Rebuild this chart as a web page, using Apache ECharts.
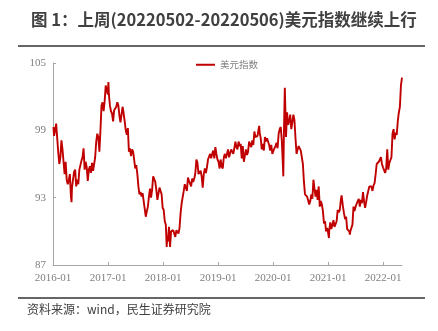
<!DOCTYPE html>
<html>
<head>
<meta charset="utf-8">
<script src="https://cdn.jsdelivr.net/npm/echarts@6/dist/echarts.min.js"></script>
<style>
  html, body { margin: 0; padding: 0; background: #fff; }
  #chart { width: 438px; height: 331px; }
</style>
</head>
<body>
<div id="chart"></div>
<script>
// US dollar index, weekly closes (month-day, value) grouped by year
const dxy2016 = [
  ['01-04',99.3],['01-08',98.5],['01-15',99.0],['01-22',99.6],['01-29',99.6],['02-05',97.0],['02-12',96.0],
  ['02-19',96.6],['02-26',98.1],['03-04',97.3],['03-11',96.2],['03-18',95.1],['03-25',96.2],['04-01',94.6],
  ['04-08',94.2],['04-15',94.6],['04-22',95.1],['04-29',93.1],['05-03',92.6],['05-06',93.9],['05-13',94.6],
  ['05-20',95.3],['05-27',95.5],['06-03',94.0],['06-10',94.6],['06-17',94.2],['06-24',95.5],['07-01',95.6],
  ['07-08',96.3],['07-15',96.6],['07-22',97.4],['07-29',95.5],['08-05',96.2],['08-12',95.7],['08-19',94.5],
  ['08-26',95.5],['09-02',95.8],['09-09',95.2],['09-16',96.1],['09-23',95.4],['09-30',95.5],['10-07',96.6],
  ['10-14',98.0],['10-21',98.7],['10-28',98.4],['11-04',97.1],['11-11',99.0],['11-18',101.2],['11-25',101.5],
  ['12-02',100.7],['12-09',101.6],['12-16',103.0],['12-23',103.0],['12-30',102.2]
];
const dxy2017 = [
  ['01-03',103.3],['01-06',102.2],['01-13',101.2],['01-20',100.7],['01-27',100.5],['02-03',99.8],['02-10',100.8],
  ['02-17',100.9],['02-24',101.1],['03-03',101.5],['03-10',101.2],['03-17',100.3],['03-24',99.7],['03-31',100.4],
  ['04-07',101.1],['04-14',100.5],['04-21',99.8],['04-28',99.0],['05-05',98.6],['05-12',99.2],['05-19',97.1],
  ['05-26',97.4],['06-02',96.7],['06-09',97.3],['06-16',97.1],['06-23',97.2],['06-30',95.6],['07-07',95.9],
  ['07-14',95.1],['07-21',94.0],['07-28',93.3],['08-04',93.5],['08-11',93.1],['08-18',93.4],['08-25',92.7],
  ['09-01',92.8],['09-08',91.3],['09-15',91.8],['09-22',92.2],['09-29',93.1],['10-06',93.8],['10-13',93.0],
  ['10-20',93.7],['10-27',94.9],['11-03',94.9],['11-10',94.4],['11-17',93.7],['11-24',92.8],['12-01',92.9],
  ['12-08',93.9],['12-15',93.9],['12-22',93.3],['12-29',92.1]
];
const dxy2018 = [
  ['01-05',91.9],['01-12',90.9],['01-19',90.6],['01-25',88.6],['01-26',89.0],['02-02',89.2],['02-09',90.4],
  ['02-16',88.6],['02-23',90.0],['03-02',89.9],['03-09',90.1],['03-16',90.2],['03-23',89.5],['03-30',90.1],
  ['04-06',90.1],['04-13',89.8],['04-20',90.3],['04-27',91.6],['05-04',92.5],['05-11',92.5],['05-18',93.6],
  ['05-25',94.2],['06-01',94.2],['06-08',93.6],['06-15',94.8],['06-22',94.5],['06-29',94.5],['07-06',94.0],
  ['07-13',94.7],['07-20',94.4],['07-27',94.7],['08-03',95.2],['08-10',96.4],['08-17',96.1],['08-24',95.1],
  ['08-31',95.1],['09-07',95.4],['09-14',94.9],['09-21',93.9],['09-28',95.1],['10-05',95.6],['10-12',95.2],
  ['10-19',95.7],['10-26',96.4],['11-02',96.5],['11-09',96.9],['11-16',96.5],['11-23',96.9],['11-30',97.2],
  ['12-07',96.5],['12-14',97.5],['12-21',96.9],['12-28',96.4]
];
const dxy2019 = [
  ['01-04',96.2],['01-11',95.6],['01-18',96.4],['01-25',95.8],['02-01',95.6],['02-08',96.6],['02-15',96.9],
  ['02-22',96.5],['03-01',96.5],['03-08',97.3],['03-15',96.6],['03-22',96.6],['03-29',97.3],['04-05',97.4],
  ['04-12',96.9],['04-19',97.4],['04-26',98.0],['05-03',97.5],['05-10',97.3],['05-17',98.0],['05-24',97.6],
  ['05-31',97.8],['06-07',96.5],['06-14',97.6],['06-21',96.2],['06-28',96.1],['07-05',97.3],['07-12',96.8],
  ['07-19',97.1],['07-26',98.0],['08-02',98.1],['08-09',97.5],['08-16',98.1],['08-23',97.7],['08-30',98.9],
  ['09-06',98.4],['09-13',98.3],['09-20',98.5],['09-27',99.1],['10-01',99.4],['10-04',98.8],['10-11',98.3],
  ['10-18',97.3],['10-25',97.8],['11-01',97.2],['11-08',98.4],['11-15',98.0],['11-22',98.3],['11-29',98.3],
  ['12-06',97.7],['12-13',97.2],['12-20',97.7],['12-27',96.9]
];
const dxy2020 = [
  ['01-03',96.8],['01-10',97.4],['01-17',97.6],['01-24',97.9],['01-31',97.4],['02-07',98.7],['02-14',99.1],
  ['02-21',99.3],['02-28',98.1],['03-06',96.0],['03-09',94.9],['03-13',98.7],['03-19',102.8],['03-20',102.3],
  ['03-27',98.4],['04-03',100.6],['04-10',99.5],['04-17',99.8],['04-24',100.4],['05-01',99.1],['05-08',99.7],
  ['05-15',100.4],['05-22',99.9],['05-29',98.3],['06-05',96.9],['06-12',97.3],['06-19',97.6],['06-26',97.4],
  ['07-03',97.2],['07-10',96.6],['07-17',96.0],['07-24',94.4],['07-31',93.3],['08-07',93.4],['08-14',93.1],
  ['08-21',93.2],['08-28',92.4],['09-04',92.7],['09-11',93.3],['09-18',92.9],['09-25',94.6],['10-02',93.8],
  ['10-09',93.1],['10-16',93.7],['10-23',92.8],['10-30',94.0],['11-06',92.2],['11-13',92.7],['11-20',92.4],
  ['11-27',91.8],['12-04',90.7],['12-11',90.9],['12-18',90.0],['12-25',90.3],['12-31',89.9]
];
const dxy2021 = [
  ['01-06',89.4],['01-08',90.1],['01-15',90.8],['01-22',90.2],['01-29',90.6],['02-05',91.0],['02-12',90.4],
  ['02-19',90.4],['02-26',90.9],['03-05',91.9],['03-12',91.7],['03-19',91.9],['03-26',92.8],['03-31',93.2],
  ['04-09',92.2],['04-16',91.6],['04-23',91.1],['04-30',91.3],['05-07',90.2],['05-14',90.3],['05-21',90.0],
  ['05-25',89.7],['05-28',90.0],['06-04',90.1],['06-11',90.6],['06-18',92.2],['06-25',91.8],['07-02',92.2],
  ['07-09',92.1],['07-16',92.7],['07-23',92.9],['07-30',92.2],['08-06',92.8],['08-13',92.5],['08-20',93.5],
  ['08-27',92.7],['09-03',92.1],['09-10',92.6],['09-17',93.2],['09-24',93.3],['10-01',94.0],['10-08',94.1],
  ['10-15',94.0],['10-22',93.6],['10-29',94.1],['11-05',94.3],['11-12',95.1],['11-19',96.0],['11-26',96.1],
  ['12-03',96.2],['12-10',96.1],['12-17',96.6],['12-24',96.0],['12-31',95.7]
];
const dxy2022 = [
  ['01-07',95.7],['01-14',95.2],['01-21',95.6],['01-28',97.3],['02-04',95.5],['02-11',96.1],['02-18',96.0],
  ['02-25',96.6],['03-04',98.7],['03-11',99.1],['03-18',98.2],['03-25',98.8],['04-01',98.6],['04-08',99.8],
  ['04-14',100.5],['04-22',101.1],['04-29',103.0],['05-06',103.7]
];

const seriesByYear = { 2016: dxy2016, 2017: dxy2017, 2018: dxy2018, 2019: dxy2019, 2020: dxy2020, 2021: dxy2021, 2022: dxy2022 };
const dxyData = [];
Object.keys(seriesByYear).forEach(function (y) {
  seriesByYear[y].forEach(function (p) { dxyData.push([y + '-' + p[0], p[1]]); });
});

const yTicks = [87, 93, 99, 105];

const chart = echarts.init(document.getElementById('chart'), null, { renderer: 'canvas' });
const axisGray = '#A6A6A6';
const labelGray = '#808080';
const YEAR = 365 * 24 * 3600 * 1000;

chart.setOption({
  animation: false,
  backgroundColor: '#fff',
  title: {
    text: '图 1：上周(20220502-20220506)美元指数继续上行',
    left: 26, top: 6,
    textStyle: { fontFamily: 'Noto Sans CJK SC', fontWeight: 'bold', fontSize: 16.5, color: '#404040' }
  },
  legend: {
    top: 55, left: 191,
    itemWidth: 19, itemHeight: 2, itemGap: 3,
    textStyle: { fontFamily: 'Noto Sans CJK SC', fontSize: 9.5, color: '#7F7F7F' },
    data: [{ name: '美元指数', icon: 'rect' }]
  },
  grid: { left: 53, right: 36, top: 63, bottom: 66, containLabel: false },
  xAxis: {
    type: 'time',
    min: '2016-01-01', max: '2022-05-06',
    minInterval: YEAR, maxInterval: YEAR + 86400000,
    axisLine: { lineStyle: { color: axisGray, width: 1 } },
    axisTick: { inside: true, length: 3, lineStyle: { color: axisGray } },
    splitLine: { show: false },
    axisLabel: {
      color: labelGray, fontFamily: 'Liberation Serif', fontSize: 11, margin: 8,
      showMinLabel: true, showMaxLabel: false,
      formatter: '{yyyy}-{MM}'
    }
  },
  yAxis: {
    type: 'value',
    min: yTicks[0], max: yTicks[yTicks.length - 1], interval: 6,
    axisLine: { show: true, lineStyle: { color: axisGray, width: 1 } },
    axisTick: { show: true, inside: true, length: 3, lineStyle: { color: axisGray } },
    splitLine: { show: false },
    axisLabel: { color: labelGray, fontFamily: 'Liberation Serif', fontSize: 11, margin: 7 }
  },
  series: [{
    name: '美元指数',
    type: 'line',
    data: dxyData,
    showSymbol: false,
    symbol: 'none',
    lineStyle: { color: '#C00000', width: 1.9 },
    itemStyle: { color: '#C00000' }
  }],
  graphic: [
    { type: 'line', shape: { x1: 18, y1: 46, x2: 425, y2: 46 }, style: { stroke: '#666666', lineWidth: 2 } },
    { type: 'line', shape: { x1: 18, y1: 298, x2: 425, y2: 298 }, style: { stroke: '#666666', lineWidth: 2 } },
    {
      type: 'text', left: 27, top: 303,
      style: { text: '资料来源：wind，民生证券研究院', font: '12px "Noto Sans CJK SC"', fill: '#404040' }
    }
  ]
});
</script>
</body>
</html>
